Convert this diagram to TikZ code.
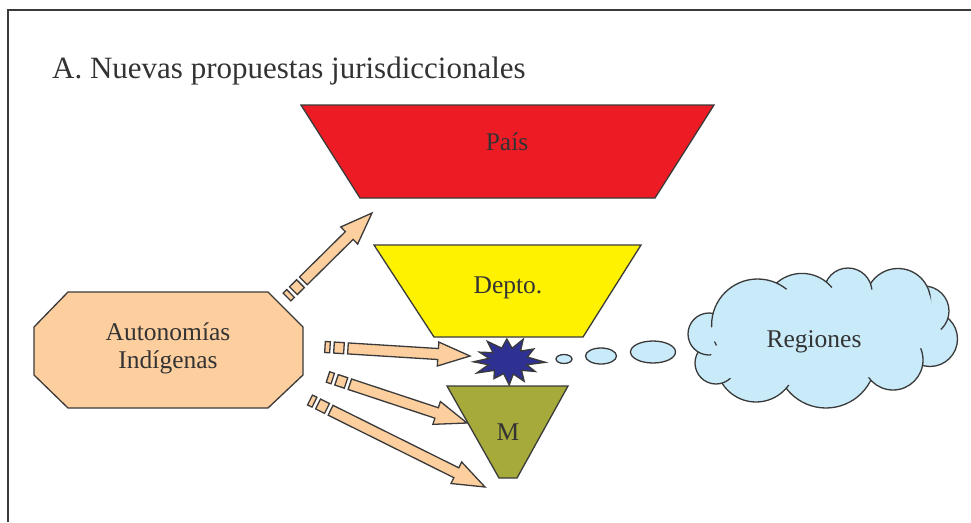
\documentclass[tikz,border=0pt]{standalone}
\usepackage{fontspec}
\setmainfont{Liberation Serif}
\usetikzlibrary{calc,shapes.geometric}
\definecolor{ln}{HTML}{3A3A3A}
\definecolor{tx}{HTML}{333333}
\definecolor{cred}{HTML}{ED1C24}
\definecolor{cyel}{HTML}{FFF200}
\definecolor{coli}{HTML}{A6AA3A}
\definecolor{cnavy}{HTML}{2E3192}
\definecolor{cpeach}{HTML}{FDCE9E}
\definecolor{cblue}{HTML}{C8EAF9}
\tikzset{
  shapeline/.style={draw=ln, line width=1.3pt, line join=miter},
  lbl/.style={text=tx, font=\fontsize{25.5}{28}\selectfont, inner sep=0pt, align=center},
  arr/.style={shapeline, fill=cpeach},
  bubble/.style={ellipse, shapeline, fill=cblue, inner sep=0pt},
  puff/.style={shapeline, fill=cblue},
}
\newcommand\stripebox[4]{%
  \coordinate (qa) at ($(#1)!#3!(#2)$);
  \coordinate (qb) at ($(#1)!#4!(#2)$);
  \path[arr] ($(qa)!5.5pt!90:(#2)$) -- ($(qb)!5.5pt!90:(#2)$) -- ($(qb)!5.5pt!-90:(#2)$) -- ($(qa)!5.5pt!-90:(#2)$) -- cycle;}
\newcommand\stripedarrow[2]{%
  \stripebox{#1}{#2}{0pt}{5pt}
  \stripebox{#1}{#2}{9pt}{19pt}
  \coordinate (qa) at ($(#1)!23pt!(#2)$);
  \coordinate (qh) at ($(#2)!32pt!(#1)$);
  \path[arr] ($(qa)!5.5pt!90:(#2)$) -- ($(qh)!5.5pt!90:(#2)$) -- ($(qh)!12pt!90:(#2)$) -- (#2) -- ($(qh)!12pt!-90:(#2)$) -- ($(qh)!5.5pt!-90:(#2)$) -- ($(qa)!5.5pt!-90:(#2)$) -- cycle;}
\begin{document}
\begin{tikzpicture}[x=1pt,y=-1pt]
\useasboundingbox (0,0) rectangle (971,522);
\fill[white] (0,0) rectangle (971,522);
% frame
\draw[ln, line width=2.5pt] (8,522) -- (8,10) -- (971,10);
% title
\node[anchor=base west, text=tx, font=\fontsize{31}{34}\selectfont, inner sep=0pt] (title) at (52,78) {A. Nuevas propuestas jurisdiccionales};
% Pais
\path[shapeline, fill=cred] (301,105) -- (714,105) -- (655,198) -- (360,198) -- cycle;
\node[lbl] (pais) at (507,142) {País};
% Depto
\path[shapeline, fill=cyel] (374,245) -- (641,245) -- (583,337) -- (434,337) -- cycle;
\node[lbl] (depto) at (508,288) {Depto.};
% M
\path[shapeline, fill=coli] (447,386) -- (568,386) -- (517,478) -- (499,478) -- cycle;
\node[lbl] (m) at (508,432) {M};
% star
\begin{scope}[shift={(508,361)}, xscale=1.5]
\path[shapeline, fill=cnavy] (3:25) -- (17:13) -- (30:21) -- (46:13) -- (62:23) -- (75:13.5) -- (88:24) -- (103:13) -- (118:20) -- (134:13) -- (150:24) -- (164:13.5) -- (178:23) -- (192:13) -- (205:21) -- (220:13) -- (235:24) -- (252:13.5) -- (268:22) -- (282:13) -- (295:24) -- (310:13) -- (325:21) -- (343:13.5) -- cycle;
\end{scope}
\coordinate (star) at (508,361);
% bubbles
\node[bubble, minimum width=16pt, minimum height=9pt] (e1) at (564,359) {};
\node[bubble, minimum width=31pt, minimum height=16pt] (e2) at (601,356) {};
\node[bubble, minimum width=45pt, minimum height=22pt] (e3) at (653,352) {};
% cloud
\path[puff] (826,358) circle[radius=50pt];
\path[puff] (756,362) circle[radius=40pt];
\path[puff] (716,363) circle[radius=21pt];
\path[puff] (709,334) circle[radius=21pt];
\path[puff] (930,339) circle[radius=27.5pt];
\path[puff] (893,360) circle[radius=30pt];
\path[puff] (924,311) circle[radius=25pt];
\path[puff] (898,301) circle[radius=32.5pt];
\path[puff] (848,292) circle[radius=24pt];
\path[puff] (802,312) circle[radius=38.6pt];
\path[puff] (757.6,325) circle[radius=46pt];
\fill[cblue] (722,322) -- (699,334) -- (718,343) -- (705,366) -- (727,376) -- (756,394) -- (787,384) -- (826,401) -- (869,377) -- (892,383) -- (903,352) -- (950,342) -- (935,322) -- (930,296) -- (898,276) -- (872,290) -- (848,276) -- (830,289) -- (802,281) -- (782,292) -- (757,287) -- (729,300) -- cycle;
\node[lbl] (regt) at (814,342) {Regiones};
% octagon
\path[shapeline, fill=cpeach] (68,292) -- (268,292) -- (303,327) -- (303,375) -- (268,408) -- (68,408) -- (34,375) -- (34,327) -- cycle;
\node[lbl] (auto) at (168,348) {Autonomías\\Indígenas};
% arrows
\coordinate (t1) at (287,297); \coordinate (h1) at (372,213);
\coordinate (t2) at (325,347); \coordinate (h2) at (470,356);
\coordinate (t3) at (328,377); \coordinate (h3) at (467,423);
\coordinate (t4) at (310,400); \coordinate (h4) at (485,487);
\stripedarrow{t1}{h1}
\stripedarrow{t2}{h2}
\stripedarrow{t3}{h3}
\stripedarrow{t4}{h4}
\end{tikzpicture}
\end{document}
